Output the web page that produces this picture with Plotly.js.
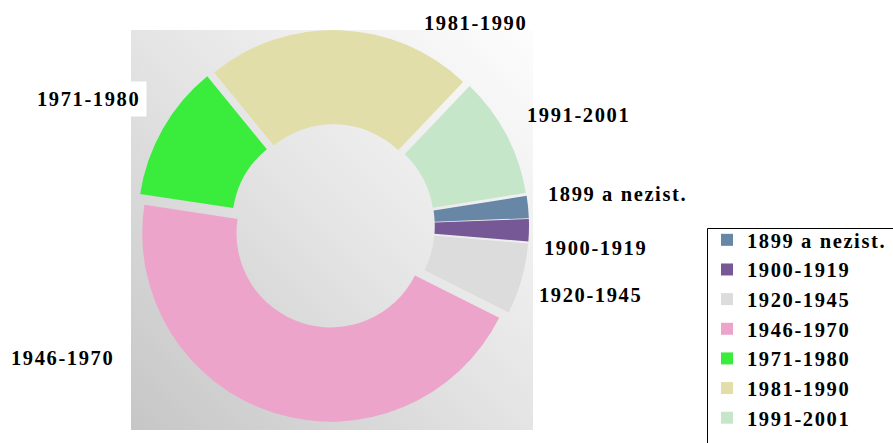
<!DOCTYPE html>
<html>
<head>
<meta charset="utf-8">
<script src="https://cdn.plot.ly/plotly-3.0.1.min.js"></script>
<style>
html,body{margin:0;padding:0;background:#fff;}
#chart{width:893px;height:443px;}
.legendtext, .annotation-text{letter-spacing:1.6px;}
#chart .legend .scrollbox{clip-path:none !important;}
</style>
</head>
<body>
<div id="chart"></div>
<script>
// Data
const categories = ['1899 a nezist.', '1900-1919', '1920-1945', '1946-1970', '1971-1980', '1981-1990', '1991-2001'];
const shares = [1.9, 1.9, 6.1, 45.0, 11.7, 23.0, 10.4];

// Styles
const sliceColors = ['#6886a6', '#765896', '#dcdcdc', '#eca4ca', '#3aec3c', '#e2deaa', '#c6e6ca'];
const labelPositions = [
  {x: 617, y: 194}, {x: 595, y: 248}, {x: 590.5, y: 295},
  {x: 62, y: 358}, {x: 88.5, y: 99}, {x: 475.5, y: 23}, {x: 578.5, y: 115}
];
const W = 893, H = 443;
const labelFont = {family: 'Liberation Serif, Times New Roman, serif', size: 20.5, color: '#000', weight: 'bold'};

const bgSvg = '<svg xmlns="http://www.w3.org/2000/svg" width="400" height="400" preserveAspectRatio="none">' +
  '<defs><linearGradient id="g" x1="0" y1="1" x2="1" y2="0">' +
  '<stop offset="0" stop-color="#c6c6c6"/><stop offset="0.5" stop-color="#e4e4e4"/><stop offset="1" stop-color="#fdfdfd"/>' +
  '</linearGradient></defs><rect width="400" height="400" fill="url(#g)"/></svg>';

const trace = {
  type: 'pie',
  labels: categories,
  values: shares,
  sort: false,
  direction: 'clockwise',
  rotation: 81,
  hole: 0.5,
  pull: 0.04,
  textinfo: 'none',
  hoverinfo: 'label+percent',
  marker: {colors: sliceColors, line: {width: 0}},
  domain: {x: [136 / W, 530 / W], y: [1 - 422 / H, 1 - 30 / H]}
};

const annotations = categories.map((c, i) => {
  const a = {
    text: c, xref: 'paper', yref: 'paper',
    x: labelPositions[i].x / W, y: 1 - labelPositions[i].y / H,
    xanchor: 'center', yanchor: 'middle', showarrow: false, font: labelFont
  };
  if (c === '1971-1980') { a.bgcolor = '#ffffff'; a.borderpad = 6; }
  return a;
});

const layout = {
  width: W, height: H,
  margin: {l: 0, r: 0, t: 0, b: 0, autoexpand: false},
  paper_bgcolor: '#ffffff',
  showlegend: true,
  legend: {
    x: 707 / W, y: 1 - 220 / H, xanchor: 'left', yanchor: 'top',
    bgcolor: 'rgba(0,0,0,0)', borderwidth: 0,
    font: labelFont, traceorder: 'normal'
  },
  shapes: [{
    type: 'rect', xref: 'paper', yref: 'paper', layer: 'above',
    x0: 707.5 / W, x1: 1.05, y0: 1 - 228.5 / H, y1: -0.05,
    line: {color: '#000000', width: 1}, fillcolor: '#ffffff'
  }],
  images: [{
    source: 'data:image/svg+xml;charset=utf-8,' + encodeURIComponent(bgSvg),
    xref: 'paper', yref: 'paper',
    x: 131 / W, y: 1 - 30 / H, sizex: 402 / W, sizey: 400 / H,
    xanchor: 'left', yanchor: 'top', sizing: 'stretch', layer: 'below'
  }],
  annotations: annotations
};

Plotly.newPlot('chart', [trace], layout, {displayModeBar: false, staticPlot: true});
</script>
</body>
</html>
